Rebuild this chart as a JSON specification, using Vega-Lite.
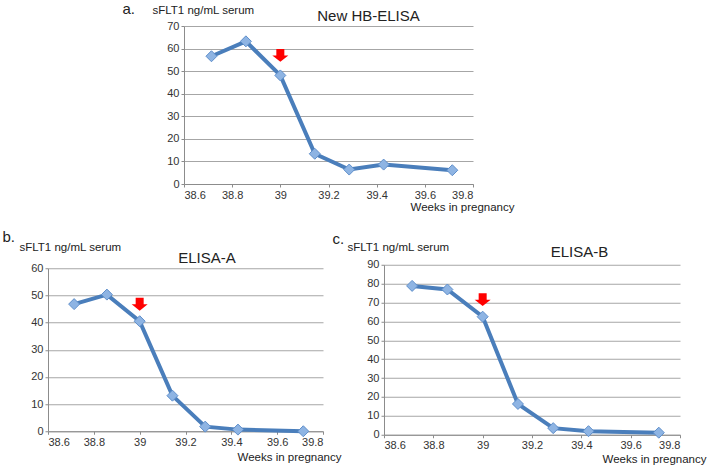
{
  "$schema": "https://vega.github.io/schema/vega-lite/v6.json",
  "padding": {"left": 2, "top": 1, "right": 3, "bottom": 3},
  "background": "white",
  "datasets": {
    "sflt": [
      {"assay": "New HB-ELISA", "week": 38.714, "value": 56.6},
      {"assay": "New HB-ELISA", "week": 38.857, "value": 63.2},
      {"assay": "New HB-ELISA", "week": 39.0, "value": 48.1},
      {"assay": "New HB-ELISA", "week": 39.143, "value": 13.4},
      {"assay": "New HB-ELISA", "week": 39.286, "value": 6.4},
      {"assay": "New HB-ELISA", "week": 39.429, "value": 8.6},
      {"assay": "New HB-ELISA", "week": 39.714, "value": 6.1},
      {"assay": "ELISA-A", "week": 38.714, "value": 46.8},
      {"assay": "ELISA-A", "week": 38.857, "value": 50.3},
      {"assay": "ELISA-A", "week": 39.0, "value": 40.5},
      {"assay": "ELISA-A", "week": 39.143, "value": 13.1},
      {"assay": "ELISA-A", "week": 39.286, "value": 1.7},
      {"assay": "ELISA-A", "week": 39.429, "value": 0.6},
      {"assay": "ELISA-A", "week": 39.714, "value": 0.0},
      {"assay": "ELISA-B", "week": 38.714, "value": 78.8},
      {"assay": "ELISA-B", "week": 38.857, "value": 76.9},
      {"assay": "ELISA-B", "week": 39.0, "value": 62.5},
      {"assay": "ELISA-B", "week": 39.143, "value": 16.3},
      {"assay": "ELISA-B", "week": 39.286, "value": 3.5},
      {"assay": "ELISA-B", "week": 39.429, "value": 1.9},
      {"assay": "ELISA-B", "week": 39.714, "value": 1.1}
    ]
  },
  "data": {"name": "sflt"},
  "bounds": "flush",
  "spacing": 238.75,
  "vconcat": [
    {
      "bounds": "flush",
      "spacing": 61,
      "hconcat": [
        {
          "width": 75,
          "height": 158,
          "data": {"values": []},
          "mark": "point",
          "encoding": {}
        },
        {
          "width": 289,
          "height": 158,
          "layer": [
            {
              "transform": [{"filter": "datum.assay == 'New HB-ELISA'"}],
              "mark": {"type": "line", "color": "#4A7EBB", "strokeWidth": 4},
              "encoding": {
                "x": {"field": "week", "type": "quantitative", "scale": {"domain": [38.6, 39.8], "nice": false, "zero": false},
                  "axis": {"orient": "bottom", "values": [38.6, 38.8, 39, 39.2, 39.4, 39.6, 39.8], "format": ".1~f", "grid": false,
                    "title": "Weeks in pregnancy", "titleX": 330, "titleY": 26, "titleAlign": "right", "titleBaseline": "alphabetic", "titleAngle": 0}},
                "y": {"field": "value", "type": "quantitative", "scale": {"domain": [0, 70], "nice": false},
                  "axis": {"orient": "left", "values": [0, 10, 20, 30, 40, 50, 60, 70], "grid": true,
                    "title": "sFLT1 ng/mL serum", "titleAngle": 0, "titleAlign": "left", "titleBaseline": "alphabetic", "titleX": -32, "titleY": -13}}
              }
            },
            {
              "transform": [{"filter": "datum.assay == 'New HB-ELISA'"}],
              "mark": {"type": "point", "shape": "diamond", "size": 121, "filled": true, "fill": "#8EB4E3", "stroke": "#5F8FCB", "strokeWidth": 1, "opacity": 1},
              "encoding": {
                "x": {"field": "week", "type": "quantitative", "axis": null},
                "y": {"field": "value", "type": "quantitative", "axis": null}
              }
            },
            {
              "transform": [{"filter": "datum.assay == 'New HB-ELISA' && datum.week == 39"}],
              "mark": {"type": "point", "shape": "M-0.5,-0.8L0.5,-0.8L0.5,0L1,0L0,0.8L-1,0L-0.5,0Z", "size": 256, "filled": true, "fill": "#FF0000", "strokeWidth": 0, "opacity": 1, "yOffset": -20},
              "encoding": {
                "x": {"field": "week", "type": "quantitative",
                  "axis": {"orient": "top", "labels": false, "ticks": false, "domain": false, "grid": false,
                    "title": "New HB-ELISA", "titleFontSize": 15, "titleX": 184, "titleY": -6, "titleAlign": "center", "titleBaseline": "alphabetic", "titleAngle": 0}},
                "y": {"field": "value", "type": "quantitative",
                  "axis": {"orient": "right", "labels": false, "ticks": false, "domain": false, "grid": false,
                    "title": "a.", "titleFontSize": 15, "titleX": -351, "titleY": -13, "titleAlign": "left", "titleBaseline": "alphabetic", "titleAngle": 0}}
              }
            }
          ],
          "resolve": {"axis": {"x": "independent", "y": "independent"}}
        }
      ]
    },
    {
      "bounds": "flush",
      "spacing": 61,
      "center": true,
      "hconcat": [
        {
          "width": 275,
          "height": 163,
          "layer": [
            {
              "transform": [{"filter": "datum.assay == 'ELISA-A'"}],
              "mark": {"type": "line", "color": "#4A7EBB", "strokeWidth": 4},
              "encoding": {
                "x": {"field": "week", "type": "quantitative", "scale": {"domain": [38.6, 39.8], "nice": false, "zero": false},
                  "axis": {"orient": "bottom", "values": [38.6, 38.8, 39, 39.2, 39.4, 39.6, 39.8], "format": ".1~f", "grid": false,
                    "title": "Weeks in pregnancy", "titleX": 293, "titleY": 29, "titleAlign": "right", "titleBaseline": "alphabetic", "titleAngle": 0}},
                "y": {"field": "value", "type": "quantitative", "scale": {"domain": [0, 60], "nice": false},
                  "axis": {"orient": "left", "values": [0, 10, 20, 30, 40, 50, 60], "grid": true,
                    "title": "sFLT1 ng/mL serum", "titleAngle": 0, "titleAlign": "left", "titleBaseline": "alphabetic", "titleX": -29, "titleY": -18}}
              }
            },
            {
              "transform": [{"filter": "datum.assay == 'ELISA-A'"}],
              "mark": {"type": "point", "shape": "diamond", "size": 121, "filled": true, "fill": "#8EB4E3", "stroke": "#5F8FCB", "strokeWidth": 1, "opacity": 1},
              "encoding": {
                "x": {"field": "week", "type": "quantitative", "axis": null},
                "y": {"field": "value", "type": "quantitative", "axis": null}
              }
            },
            {
              "transform": [{"filter": "datum.assay == 'ELISA-A' && datum.week == 39"}],
              "mark": {"type": "point", "shape": "M-0.5,-0.8L0.5,-0.8L0.5,0L1,0L0,0.8L-1,0L-0.5,0Z", "size": 256, "filled": true, "fill": "#FF0000", "strokeWidth": 0, "opacity": 1, "yOffset": -17},
              "encoding": {
                "x": {"field": "week", "type": "quantitative",
                  "axis": {"orient": "top", "labels": false, "ticks": false, "domain": false, "grid": false,
                    "title": "ELISA-A", "titleFontSize": 15, "titleX": 158.5, "titleY": -6, "titleAlign": "center", "titleBaseline": "alphabetic", "titleAngle": 0}},
                "y": {"field": "value", "type": "quantitative",
                  "axis": {"orient": "right", "labels": false, "ticks": false, "domain": false, "grid": false,
                    "title": "b.", "titleFontSize": 15, "titleX": -321, "titleY": -27, "titleAlign": "left", "titleBaseline": "alphabetic", "titleAngle": 0}}
              }
            }
          ],
          "resolve": {"axis": {"x": "independent", "y": "independent"}}
        },
        {
          "width": 296,
          "height": 170,
          "layer": [
            {
              "transform": [{"filter": "datum.assay == 'ELISA-B'"}],
              "mark": {"type": "line", "color": "#4A7EBB", "strokeWidth": 4},
              "encoding": {
                "x": {"field": "week", "type": "quantitative", "scale": {"domain": [38.6, 39.8], "nice": false, "zero": false},
                  "axis": {"orient": "bottom", "values": [38.6, 38.8, 39, 39.2, 39.4, 39.6, 39.8], "format": ".1~f", "grid": false,
                    "title": "Weeks in pregnancy", "titleX": 322, "titleY": 28, "titleAlign": "right", "titleBaseline": "alphabetic", "titleAngle": 0}},
                "y": {"field": "value", "type": "quantitative", "scale": {"domain": [0, 90], "nice": false},
                  "axis": {"orient": "left", "values": [0, 10, 20, 30, 40, 50, 60, 70, 80, 90], "grid": true,
                    "title": "sFLT1 ng/mL serum", "titleAngle": 0, "titleAlign": "left", "titleBaseline": "alphabetic", "titleX": -37, "titleY": -14}}
              }
            },
            {
              "transform": [{"filter": "datum.assay == 'ELISA-B'"}],
              "mark": {"type": "point", "shape": "diamond", "size": 121, "filled": true, "fill": "#8EB4E3", "stroke": "#5F8FCB", "strokeWidth": 1, "opacity": 1},
              "encoding": {
                "x": {"field": "week", "type": "quantitative", "axis": null},
                "y": {"field": "value", "type": "quantitative", "axis": null}
              }
            },
            {
              "transform": [{"filter": "datum.assay == 'ELISA-B' && datum.week == 39"}],
              "mark": {"type": "point", "shape": "M-0.5,-0.8L0.5,-0.8L0.5,0L1,0L0,0.8L-1,0L-0.5,0Z", "size": 256, "filled": true, "fill": "#FF0000", "strokeWidth": 0, "opacity": 1, "yOffset": -17},
              "encoding": {
                "x": {"field": "week", "type": "quantitative",
                  "axis": {"orient": "top", "labels": false, "ticks": false, "domain": false, "grid": false,
                    "title": "ELISA-B", "titleFontSize": 15, "titleX": 195, "titleY": -8, "titleAlign": "center", "titleBaseline": "alphabetic", "titleAngle": 0}},
                "y": {"field": "value", "type": "quantitative",
                  "axis": {"orient": "right", "labels": false, "ticks": false, "domain": false, "grid": false,
                    "title": "c.", "titleFontSize": 15, "titleX": -348, "titleY": -21, "titleAlign": "left", "titleBaseline": "alphabetic", "titleAngle": 0}}
              }
            }
          ],
          "resolve": {"axis": {"x": "independent", "y": "independent"}}
        }
      ]
    }
  ],
  "config": {
    "font": "Liberation Sans",
    "view": {"stroke": null},
    "axis": {
      "labelFont": "Liberation Sans",
      "labelFontSize": 11,
      "labelColor": "#333333",
      "labelPadding": 2,
      "tickSize": 3,
      "tickColor": "#8c8c8c",
      "domainColor": "#8c8c8c",
      "domainWidth": 1,
      "gridColor": "#a6a6a6",
      "gridWidth": 1,
      "titleFont": "Liberation Sans",
      "titleFontSize": 11.5,
      "titleFontWeight": "normal",
      "titleColor": "#222222"
    }
  }
}
